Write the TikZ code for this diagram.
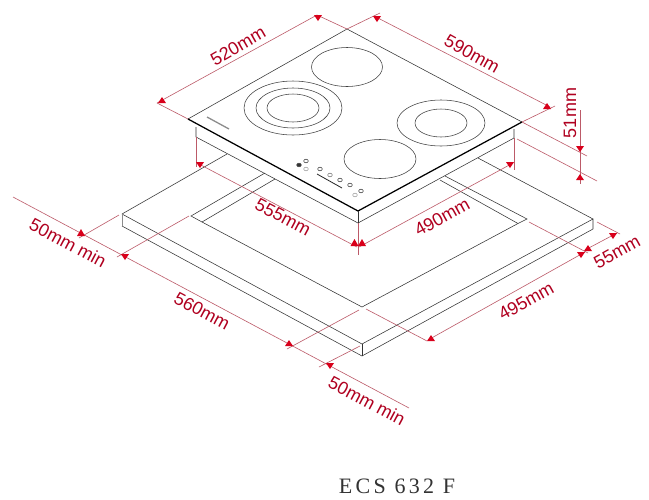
\documentclass[tikz,border=0pt]{standalone}
\usepackage{fontspec}
\setmainfont{Liberation Sans}
\newfontfamily\modelfont[LetterSpace=15]{Liberation Serif}
\definecolor{dimcol}{HTML}{BC5A68}
\definecolor{tipcol}{HTML}{D9001B}
\definecolor{txtcol}{HTML}{B00020}
\newcommand{\tipup}[3]{\fill[tipcol] (#1,#2) -- (#1-4,#3) -- (#1+4,#3) -- cycle;}
\newcommand{\tipdn}[3]{\fill[tipcol] (#1,#2) -- (#1-4,#3) -- (#1+4,#3) -- cycle;}
\tikzset{
  outline/.style={draw=black!80,line width=0.55pt},
  heavy/.style={draw=black,line width=1.25pt},
  burner/.style={draw=black!75,line width=0.55pt},
  knob/.style={draw=black!70,line width=0.6pt,ellipse,inner sep=0pt,minimum width=4.6pt,minimum height=3.6pt},
  faint/.style={knob,draw=black!35},
  ext/.style={draw=dimcol,line width=0.6pt},
  lab/.style={text=txtcol,font=\fontsize{18}{20}\selectfont,inner sep=0pt},
}
\usetikzlibrary{shapes.geometric}
\begin{document}
\begin{tikzpicture}[x=1pt,y=-1pt]
\useasboundingbox[fill=white] (0,0) rectangle (649,499);
% hob corners
\coordinate (hB) at (347,29); \coordinate (hL) at (188,119);
\coordinate (hF) at (358,211); \coordinate (hR) at (522,122);
\coordinate (uLt) at (196,127); \coordinate (uLb) at (196,137);
\coordinate (uFb) at (358,223);
\coordinate (uRt) at (514,129); \coordinate (uRb) at (514,138);
% board corners
\coordinate (bL) at (122,214); \coordinate (bLb) at (122,226);
\coordinate (bF) at (362,344); \coordinate (bFb) at (362,356);
\coordinate (bR) at (593,219); \coordinate (bRb) at (593,229);
% cut-out corners
\coordinate (cL) at (191,216); \coordinate (cLi) at (202,222);
\coordinate (cF) at (362,307);
\coordinate (cR) at (527,219); \coordinate (cRi) at (518,223.5);
% board
\draw[outline] (bL) -- (227,154);
\draw[outline] (478,158) -- (bR);
\draw[outline] (bL) -- (bF) -- (bR) -- (bRb) -- (bFb) -- (bLb);
\draw[draw=black!45,line width=0.6pt] (bL) -- (bLb);
\draw[outline] (bF) -- (bFb);
% cut-out
\draw[outline] (265,173) -- (cL) -- (cLi) -- (cF) -- (cRi) -- (cR) -- (445,176);
\draw[outline] (275,179) -- (cLi);
\draw[outline] (440,180) -- (cRi);
% hob
\draw[outline] (hL) -- (hB) -- (hR);
\draw[heavy] (hL) -- (hF) -- (hR);
\draw[outline] (uLt) -- (uLb) -- (uFb) -- (uRb) -- (uRt);
\draw[outline] (hF) -- (uFb);
% burners
\draw[burner] (347,67) ellipse [x radius=35.5,y radius=19.5];
\draw[burner] (293,108) ellipse [x radius=49,y radius=27];
\draw[burner] (293,108) ellipse [x radius=37,y radius=20];
\draw[burner] (293,108) ellipse [x radius=26,y radius=14];
\draw[burner] (441,123) ellipse [x radius=44,y radius=23];
\draw[burner] (441,123) ellipse [x radius=26,y radius=14];
\draw[burner] (380,159) ellipse [x radius=36,y radius=19.5];
% logo and controls
\draw[black!45,line width=1.3pt] (207,117) -- (229,129);
\node[knob] (k1) at (306,161) {};
\node[knob,fill=black!80] (k2) at (299,165) {};
\node[faint] (k3) at (306,169) {};
\node[knob] (k4) at (320,169) {};
\node[knob,draw=black!50] (k5) at (330,175) {};
\node[knob] (k6) at (340,180) {};
\node[knob] (k7) at (350,185) {};
\node[knob] (k8) at (361,191) {};
\node[faint] (k9) at (355,195) {};
\draw[black!85,line width=0.8pt] (317,174) -- (342,188);
% extension lines
\draw[ext] (157,103) -- (hL);
\draw[ext] (317,15) -- (hB);
\draw[ext] (hB) -- (380,13);
\draw[ext] (hR) -- (555,106);
\draw[ext] (hR) -- (587,156);
\draw[ext] (517,139) -- (597,181);
\draw[ext] (uLb) -- (196,167);
\draw[ext] (uFb) -- (358,255);
\draw[ext] (uRb) -- (514,170);
\draw[ext] (597,222) -- (620,234);
\draw[ext] (529,222) -- (588,253);
\draw[ext] (366,309) -- (427,341);
\draw[ext] (117,257) -- (189,216);
\draw[ext] (287,349) -- (359,310);
\draw[ext] (79,238) -- (119,215);
\draw[ext] (319,367) -- (360,346);
% dimension lines
\draw[ext] (157,103) -- (317,15);
\draw[ext] (376,17) -- (550,107);
\draw[ext] (197,163) -- (357,247);
\draw[ext] (359,247) -- (513,163);
\draw[ext] (585,250) -- (617,233);
\draw[ext] (585,252) -- (428,340);
\draw[ext] (580,110) -- (580,184);
\draw[ext] (13,197) -- (409,408);
% arrowheads: apex y, then base y
\tipdn{318}{21}{15}
\tipup{162}{97}{103}
\tipdn{377}{22}{16}
\tipup{547}{103}{109}
\tipdn{580}{152}{146}
\tipup{580}{174}{180}
\tipdn{200}{168}{162}
\tipup{354.5}{239}{246}
\tipup{362}{239}{246}
\tipdn{510}{168}{162}
\tipup{588}{245}{251}
\tipdn{613}{239}{233}
\tipdn{581}{258}{252}
\tipup{431}{335}{341}
\tipup{81}{229}{236}
\tipdn{125}{260}{254}
\tipup{289}{340}{346}
\tipdn{330}{369}{363}
% labels
\node[lab,rotate=30] (t520) at (238,46) {520mm};
\node[lab,rotate=-29] (t590) at (472,54) {590mm};
\node[lab,rotate=90] (t51) at (570,113) {51mm};
\node[lab,rotate=-28] (t555) at (283,217) {555mm};
\node[lab,rotate=29] (t490) at (442,217) {490mm};
\node[lab,rotate=29] (t55) at (617,252) {55mm};
\node[lab,rotate=29] (t495) at (526,301) {495mm};
\node[lab,rotate=-28] (t560) at (202,311) {560mm};
\node[lab,rotate=-28] (t50a) at (68,243) {50mm min};
\node[lab,rotate=-28] (t50b) at (367,401) {50mm min};
\node[text=black!80,font=\fontsize{22}{24}\modelfont,inner sep=0pt] (model) at (397,486) {ECS 632 F};
\end{tikzpicture}
\end{document}
